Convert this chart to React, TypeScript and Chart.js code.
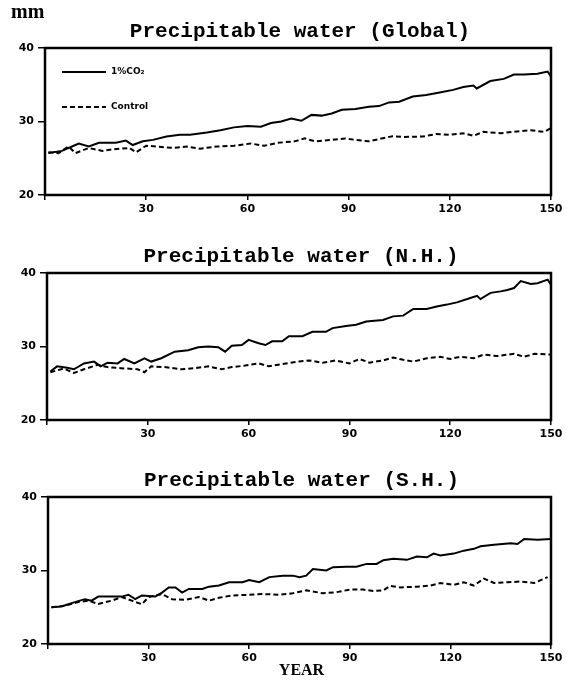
import React, { useEffect, useRef } from "react";
import { Chart, registerables } from "chart.js";
Chart.register(...registerables);

const xTickValues = [0, 30, 60, 90, 120, 150];
const yTickValues = [20, 30, 40];
const seriesLabels = ["1%CO\u2082", "Control"];
const panelTitles = [
  "Precipitable water (Global)",
  "Precipitable water (N.H.)",
  "Precipitable water (S.H.)",
];

// Global
const globalCO2Years = [1,5,8,10,13,16,21,24,26,29,32,36,40,43,48,52,56,60,64,67,70,73,76,79,82,85,88,92,96,99,102,105,109,113,117,121,124,127,128,132,136,139,142,146,149,150];
const globalCO2 = [25.7,26.0,26.6,27.0,26.6,27.1,27.1,27.4,26.8,27.3,27.5,27.95,28.2,28.2,28.5,28.8,29.2,29.4,29.3,29.8,30.0,30.4,30.1,30.9,30.8,31.1,31.6,31.7,32.0,32.1,32.6,32.7,33.4,33.6,33.95,34.3,34.7,34.9,34.5,35.5,35.8,36.4,36.4,36.5,36.8,36.1];
const globalCtlYears = [1,4,7,9,13,17,20,25,27,30,33,38,42,46,51,56,61,65,69,74,77,80,85,89,92,96,99,103,106,112,116,120,124,127,130,135,139,144,148,150];
const globalCtl = [25.8,25.7,26.6,25.7,26.4,26.0,26.2,26.4,25.8,26.7,26.6,26.4,26.6,26.3,26.6,26.7,27.0,26.7,27.1,27.3,27.7,27.3,27.5,27.7,27.5,27.3,27.6,28.0,27.9,27.95,28.3,28.2,28.4,28.05,28.6,28.4,28.6,28.8,28.6,29.1];

// Northern Hemisphere
const nhCO2Years = [1,3,6,8,11,14,16,18,21,23,26,29,31,34,38,42,45,48,51,53,55,58,60,63,65,67,70,72,76,79,83,85,89,92,95,100,103,106,109,113,116,119,122,126,128,129,132,135,137,139,141,144,146,149,150];
const nhCO2 = [26.6,27.3,27.1,26.9,27.7,27.95,27.3,27.8,27.7,28.3,27.7,28.4,27.95,28.4,29.3,29.5,29.9,30.0,29.9,29.3,30.1,30.2,30.9,30.45,30.2,30.7,30.7,31.4,31.4,32.0,32.0,32.5,32.8,32.95,33.4,33.6,34.1,34.2,35.1,35.1,35.45,35.7,36.0,36.6,36.9,36.45,37.3,37.5,37.7,37.95,38.9,38.5,38.6,39.1,38.4];
const nhCtlYears = [1,5,8,11,15,18,22,27,29,31,35,40,44,48,52,55,59,63,66,70,75,78,82,86,90,93,96,100,103,106,109,113,117,120,123,127,130,134,139,142,145,150];
const nhCtl = [26.5,27.0,26.4,26.9,27.5,27.2,27.05,26.9,26.5,27.3,27.2,26.9,27.05,27.3,26.9,27.2,27.4,27.7,27.3,27.6,27.95,28.1,27.8,28.1,27.7,28.3,27.8,28.1,28.5,28.2,27.95,28.4,28.6,28.3,28.6,28.4,28.9,28.7,29.0,28.6,29.0,28.9];

// Southern Hemisphere
const shCO2Years = [1,4,8,11,13,15,19,22,24,26,28,32,34,36,38,40,42,46,48,51,54,58,60,63,66,70,73,75,77,79,83,85,89,92,95,98,100,103,107,110,113,115,117,121,124,127,129,133,138,140,142,146,150];
const shCO2 = [25.0,25.1,25.7,26.1,25.9,26.45,26.45,26.45,26.7,26.1,26.6,26.45,27.0,27.7,27.7,27.0,27.5,27.5,27.8,27.95,28.4,28.4,28.7,28.4,29.1,29.3,29.3,29.1,29.3,30.2,30.0,30.45,30.5,30.5,30.9,30.9,31.4,31.6,31.45,31.9,31.8,32.3,32.05,32.3,32.7,32.95,33.3,33.5,33.7,33.6,34.3,34.2,34.3];
const shCtlYears = [1,5,9,12,15,19,22,25,28,30,34,37,41,45,48,51,55,60,64,69,73,77,82,86,90,94,97,100,102,105,110,114,117,121,124,127,130,133,137,141,145,149];
const shCtl = [25.0,25.2,25.7,25.9,25.45,25.9,26.4,25.9,25.4,26.4,26.8,26.1,26.0,26.4,25.9,26.3,26.6,26.7,26.8,26.7,26.9,27.3,26.9,27.05,27.4,27.4,27.2,27.3,27.9,27.7,27.8,27.95,28.3,28.05,28.4,27.95,28.9,28.3,28.4,28.5,28.3,29.1];

const W = 573;
const PLOT_RIGHT = 551;
const TOP_PAD = 48;

type PanelProps = {
  plotLeft: number;
  plotTop: number;
  plotBottom: number;
  bottomH: number;
  title: string;
  co2Years: number[];
  co2: number[];
  ctlYears: number[];
  ctl: number[];
  legend?: boolean;
  unit?: boolean;
  xTitle?: boolean;
};

const pts = (xs: number[], ys: number[]) => xs.map((x, i) => ({ x, y: ys[i] }));

function Panel(p: PanelProps) {
  const ref = useRef<HTMLCanvasElement | null>(null);
  const canvasTop = p.plotTop - TOP_PAD;
  const height = p.plotBottom - p.plotTop + TOP_PAD + p.bottomH;

  useEffect(() => {
    if (!ref.current) return;
    const deco = {
      id: "deco" + p.title,
      afterDraw(chart: any) {
        const ctx = chart.ctx;
        const a = chart.chartArea;
        ctx.save();
        ctx.strokeStyle = "#000";
        ctx.lineWidth = 2.5;
        ctx.strokeRect(a.left, a.top, a.right - a.left, a.bottom - a.top);
        ctx.fillStyle = "#000";
        ctx.textAlign = "center";
        ctx.textBaseline = "alphabetic";
        ctx.font = "bold 21px 'Liberation Mono'";
        ctx.fillText(p.title, (a.left + a.right) / 2 + 2, a.top - 11);
        if (p.unit) {
          ctx.textAlign = "left";
          ctx.font = "bold 20px 'Liberation Serif'";
          ctx.fillText("mm", 11, 18);
        }
        if (p.legend) {
          const x0 = a.left + 17;
          const x1 = a.left + 61;
          const y1 = a.top + 24;
          const y2 = a.top + 59;
          ctx.lineWidth = 2;
          ctx.beginPath();
          ctx.moveTo(x0, y1);
          ctx.lineTo(x1, y1);
          ctx.stroke();
          ctx.setLineDash([5, 3]);
          ctx.beginPath();
          ctx.moveTo(x0, y2);
          ctx.lineTo(x1, y2);
          ctx.stroke();
          ctx.setLineDash([]);
          ctx.textAlign = "left";
          ctx.textBaseline = "middle";
          ctx.font = "bold 9px 'DejaVu Sans'";
          ctx.fillText(seriesLabels[0], x1 + 5, y1);
          ctx.fillText(seriesLabels[1], x1 + 5, y2);
        }
        if (p.xTitle) {
          ctx.textAlign = "center";
          ctx.textBaseline = "middle";
          ctx.font = "bold 16px 'Liberation Serif'";
          ctx.fillText("YEAR", (a.left + a.right) / 2 + 2, a.bottom + 27);
        }
        ctx.restore();
      },
    };

    const chart = new Chart(ref.current, {
      type: "line",
      data: {
        datasets: [
          {
            label: seriesLabels[0],
            data: pts(p.co2Years, p.co2),
            borderColor: "#000",
            borderWidth: 2,
            pointRadius: 0,
            tension: 0,
            fill: false,
          },
          {
            label: seriesLabels[1],
            data: pts(p.ctlYears, p.ctl),
            borderColor: "#000",
            borderWidth: 2,
            borderDash: [5, 3],
            pointRadius: 0,
            tension: 0,
            fill: false,
          },
        ],
      },
      options: {
        animation: false,
        responsive: false,
        devicePixelRatio: 1,
        parsing: false as any,
        layout: { padding: { top: TOP_PAD, right: W - PLOT_RIGHT, left: 0, bottom: 0 } },
        plugins: { legend: { display: false }, tooltip: { enabled: false }, title: { display: false } },
        scales: {
          x: {
            type: "linear",
            min: 0,
            max: 150,
            afterBuildTicks: (s: any) => {
              s.ticks = xTickValues.map((v) => ({ value: v }));
            },
            afterFit: (s: any) => {
              s.height = p.bottomH;
            },
            border: { display: false },
            grid: { display: true, drawOnChartArea: false, drawTicks: true, tickLength: 5, color: "#000", lineWidth: 1.5 },
            ticks: {
              autoSkip: false,
              maxRotation: 0,
              padding: 3,
              color: "#000",
              font: { family: "'DejaVu Sans'", weight: "bold", size: 11 },
              callback: (v: any) => (v === 0 ? "" : String(v)),
            },
          },
          y: {
            type: "linear",
            min: 20,
            max: 40,
            afterBuildTicks: (s: any) => {
              s.ticks = yTickValues.map((v) => ({ value: v }));
            },
            afterFit: (s: any) => {
              s.width = p.plotLeft;
            },
            border: { display: false },
            grid: { display: true, drawOnChartArea: false, drawTicks: true, tickLength: 7, color: "#000", lineWidth: 1.5 },
            ticks: {
              padding: 4,
              color: "#000",
              font: { family: "'DejaVu Sans'", weight: "bold", size: 11 },
              callback: (v: any) => String(v),
            },
          },
        },
      },
      plugins: [deco],
    } as any);
    return () => chart.destroy();
  }, []);

  return (
    <canvas
      ref={ref}
      width={W}
      height={height}
      style={{ position: "absolute", left: 0, top: canvasTop, width: W, height }}
    />
  );
}

export default function App() {
  return (
    <div
      style={{
        position: "absolute",
        left: 0,
        top: 0,
        width: W,
        height: 688,
        background: "#fff",
        overflow: "hidden",
      }}
    >
      <Panel
        plotLeft={45}
        plotTop={48}
        plotBottom={195}
        bottomH={28}
        title={panelTitles[0]}
        co2Years={globalCO2Years}
        co2={globalCO2}
        ctlYears={globalCtlYears}
        ctl={globalCtl}
        legend
        unit
      />
      <Panel
        plotLeft={47}
        plotTop={273}
        plotBottom={420}
        bottomH={28}
        title={panelTitles[1]}
        co2Years={nhCO2Years}
        co2={nhCO2}
        ctlYears={nhCtlYears}
        ctl={nhCtl}
      />
      <Panel
        plotLeft={48}
        plotTop={497}
        plotBottom={644}
        bottomH={44}
        title={panelTitles[2]}
        co2Years={shCO2Years}
        co2={shCO2}
        ctlYears={shCtlYears}
        ctl={shCtl}
        xTitle
      />
    </div>
  );
}
